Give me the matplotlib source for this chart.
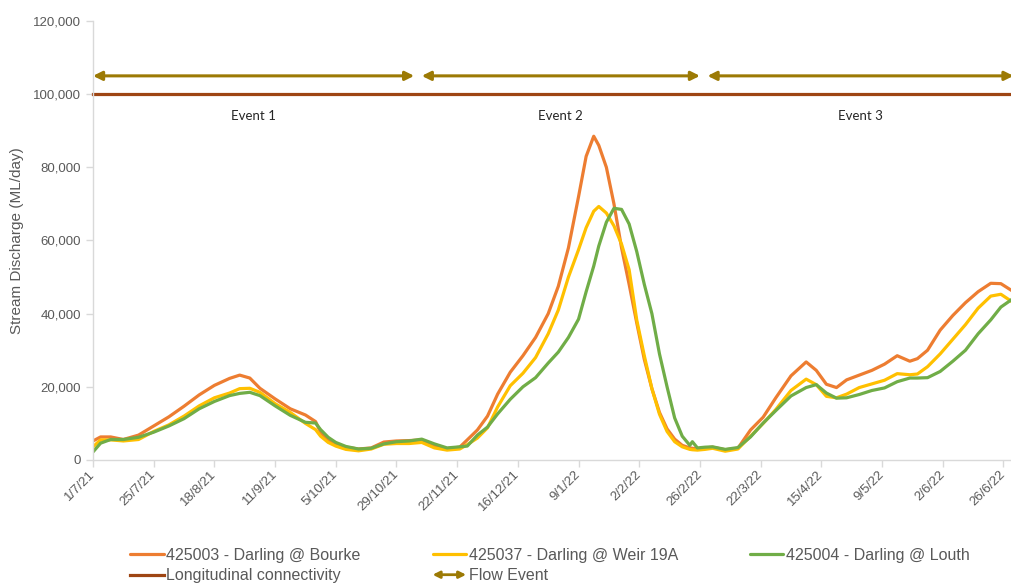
import pandas as pd
import matplotlib.pyplot as plt
from matplotlib.patches import FancyArrowPatch
from matplotlib.lines import Line2D
from matplotlib.legend_handler import HandlerPatch
from matplotlib.ticker import FuncFormatter

# Daily flow readings (ML/day)
dates = ['2021-07-01', '2021-07-04', '2021-07-08', '2021-07-13', '2021-07-19', '2021-07-25',
         '2021-07-31', '2021-08-06', '2021-08-12', '2021-08-18', '2021-08-24', '2021-08-28',
         '2021-09-01', '2021-09-05', '2021-09-11', '2021-09-17', '2021-09-23', '2021-09-27',
         '2021-09-29', '2021-10-02', '2021-10-05', '2021-10-09', '2021-10-14', '2021-10-19',
         '2021-10-24', '2021-10-29', '2021-11-03', '2021-11-08', '2021-11-13', '2021-11-18',
         '2021-11-23', '2021-11-26', '2021-11-30', '2021-12-04', '2021-12-08', '2021-12-13',
         '2021-12-18', '2021-12-23', '2021-12-28', '2022-01-01', '2022-01-05', '2022-01-09',
         '2022-01-12', '2022-01-15', '2022-01-17', '2022-01-20', '2022-01-23', '2022-01-26',
         '2022-01-29', '2022-02-01', '2022-02-04', '2022-02-07', '2022-02-10', '2022-02-13',
         '2022-02-16', '2022-02-19', '2022-02-22', '2022-02-23', '2022-02-25', '2022-02-28',
         '2022-03-03', '2022-03-08', '2022-03-13', '2022-03-18', '2022-03-23', '2022-03-28',
         '2022-04-03', '2022-04-09', '2022-04-13', '2022-04-17', '2022-04-21', '2022-04-25',
         '2022-04-30', '2022-05-05', '2022-05-10', '2022-05-15', '2022-05-20', '2022-05-23',
         '2022-05-27', '2022-06-01', '2022-06-06', '2022-06-11', '2022-06-16', '2022-06-21',
         '2022-06-25', '2022-06-30']

bourke = [5200, 6300, 6300, 5600, 6800, 9300, 11800, 14700, 17800, 20400, 22300, 23200,
          22400, 19600, 16700, 14000, 12300, 10500, 7600, 5300, 4300, 3500, 3000, 3300,
          4900, 5200, 5300, 5500, 3800, 3100, 3500, 5500, 8200, 12000, 18000, 24000,
          28500, 33500, 40000, 47500, 58000, 72000, 83000, 88500, 86000, 80000, 70000, 58000,
          48000, 37500, 27500, 19500, 13000, 8500, 5700, 4000, 3300, 3200, 3000, 3300,
          3500, 2800, 3200, 8200, 11700, 17000, 23000, 26800, 24500, 20700, 19800, 21900,
          23200, 24500, 26200, 28500, 27000, 27700, 30000, 35500, 39500, 43000, 46000, 48300,
          48200, 46000]

weir19a = [3600, 5500, 5500, 5200, 5600, 7800, 9600, 12000, 14800, 17000, 18300, 19500,
           19600, 18500, 15400, 13000, 10000, 8300, 6500, 4800, 3800, 2900, 2500, 3000,
           4300, 4500, 4500, 4800, 3300, 2700, 3000, 4200, 6000, 8800, 14500, 20300,
           23700, 28000, 34500, 41000, 50000, 57500, 63500, 68000, 69300, 67500, 64000, 59000,
           52000, 38300, 28500, 19500, 12500, 7800, 5000, 3600, 2900, 2800, 2700, 2900,
           3200, 2400, 3000, 6500, 10000, 13800, 19000, 22100, 20600, 17400, 17000, 18000,
           19800, 20800, 21800, 23600, 23300, 23500, 25500, 29000, 33000, 37000, 41500, 44800,
           45300, 43000]

louth = [2200, 4600, 5600, 5600, 6200, 7600, 9300, 11300, 14000, 16000, 17600, 18200,
         18500, 17600, 14800, 12200, 10300, 10100, 8300, 6200, 4800, 3700, 3000, 3200,
         4400, 5000, 5200, 5700, 4400, 3300, 3600, 3800, 6800, 9000, 12600, 16600,
         20000, 22500, 26500, 29500, 33500, 38500, 46000, 53000, 58500, 65000, 68800, 68500,
         64500, 57000, 48000, 40000, 29000, 20000, 11500, 6500, 4000, 5000, 3300, 3500,
         3600, 2900, 3400, 6300, 10100, 13500, 17500, 19800, 20600, 18300, 16900, 17000,
         17900, 19000, 19700, 21400, 22400, 22400, 22500, 24200, 27000, 30000, 34500, 38300,
         41800, 44200]

series_names = ['425003 - Darling @ Bourke', '425037 - Darling @ Weir 19A', '425004 - Darling @ Louth']
series_colors = ['#ED7D31', '#FFC000', '#70AD47']

connectivity = 100000
event_names = ['Event 1', 'Event 2', 'Event 3']
event_start = ['2021-07-01', '2021-11-08', '2022-03-01']
event_end = ['2021-11-05', '2022-02-26', '2022-06-30']
event_level = 105000

tick_labels = ['1/7/21', '25/7/21', '18/8/21', '11/9/21', '5/10/21', '29/10/21', '22/11/21',
               '16/12/21', '9/1/22', '2/2/22', '26/2/22', '22/3/22', '15/4/22', '9/5/22',
               '2/6/22', '26/6/22']

df = pd.DataFrame({'date': pd.to_datetime(dates), 'bourke': bourke,
                   'weir': weir19a, 'louth': louth})

plt.rcParams['font.family'] = ['Liberation Sans', 'DejaVu Sans']
grey_txt = '#595959'
arrow_col = '#9C7A05'
brown = '#9E4513'

fig = plt.figure(figsize=(10.11, 5.83), dpi=100)
ax = fig.add_axes([0.092, 0.211, 0.918, 0.753])

for col, name, c in zip(['bourke', 'weir', 'louth'], series_names, series_colors):
    ax.plot(df['date'], df[col], color=c, lw=2.3, label=name,
            solid_joinstyle='round', solid_capstyle='round')

x0 = pd.Timestamp('2021-07-01')
x1 = pd.Timestamp('2022-07-03')
ax.plot([x0, x1], [connectivity, connectivity], color=brown, lw=2.3, clip_on=False)

for name, s, e in zip(event_names, event_start, event_end):
    s, e = pd.Timestamp(s), pd.Timestamp(e)
    ax.annotate('', xy=(e, event_level), xytext=(s, event_level),
                arrowprops=dict(arrowstyle='<|-|>', color=arrow_col, lw=2.2,
                                mutation_scale=13, shrinkA=0, shrinkB=0),
                annotation_clip=False)
    mid = s + (e - s) / 2
    ax.text(mid, 94000, name, ha='center', va='center', fontsize=9.5,
            color='#262626', family=['Lato', 'DejaVu Sans'])

ax.set_xlim(x0, x1)
ax.set_ylim(0, 120000)
ax.set_yticks(range(0, 120001, 20000))
ax.yaxis.set_major_formatter(FuncFormatter(lambda v, p: f'{int(v):,}'))

tick_dates = pd.to_datetime(tick_labels, format='%d/%m/%y')
ax.set_xticks(tick_dates)
ax.set_xticklabels(tick_labels, rotation=45, ha='right', va='center',
                   rotation_mode='anchor')

for side in ['top', 'right']:
    ax.spines[side].set_visible(False)
for side in ['left', 'bottom']:
    ax.spines[side].set_color('#D9D9D9')
    ax.spines[side].set_linewidth(1.0)
ax.tick_params(axis='both', colors='#D9D9D9', labelcolor=grey_txt, labelsize=9.5,
               length=5, width=1)
ax.tick_params(axis='x', pad=4)

ax.set_ylabel('Stream Discharge (ML/day)', fontsize=11, color=grey_txt)
ax.yaxis.set_label_coords(-0.074, 0.5)


def make_arrow(legend, orig_handle, xdescent, ydescent, width, height, fontsize):
    y = height / 2 - ydescent
    return FancyArrowPatch((-xdescent, y), (width - xdescent, y), arrowstyle='<|-|>',
                           mutation_scale=10, shrinkA=0, shrinkB=0)


flow_proxy = FancyArrowPatch((0, 0), (1, 0), arrowstyle='<|-|>', color=arrow_col, lw=2)
conn_proxy = Line2D([], [], color=brown, lw=2.3)
h, l = ax.get_legend_handles_labels()
handles = [h[0], conn_proxy, h[1], flow_proxy, h[2]]
labels = [l[0], 'Longitudinal connectivity', l[1], 'Flow Event', l[2]]
fig.legend(handles, labels, ncol=3, loc='upper left', bbox_to_anchor=(0.129, 0.06),
           frameon=False, fontsize=11.5, handlelength=2.1, handletextpad=0.15,
           columnspacing=4.5, labelspacing=0.33, borderaxespad=0, borderpad=0,
           labelcolor=grey_txt,
           handler_map={FancyArrowPatch: HandlerPatch(patch_func=make_arrow)})

fig.savefig('out.png', dpi=100)
